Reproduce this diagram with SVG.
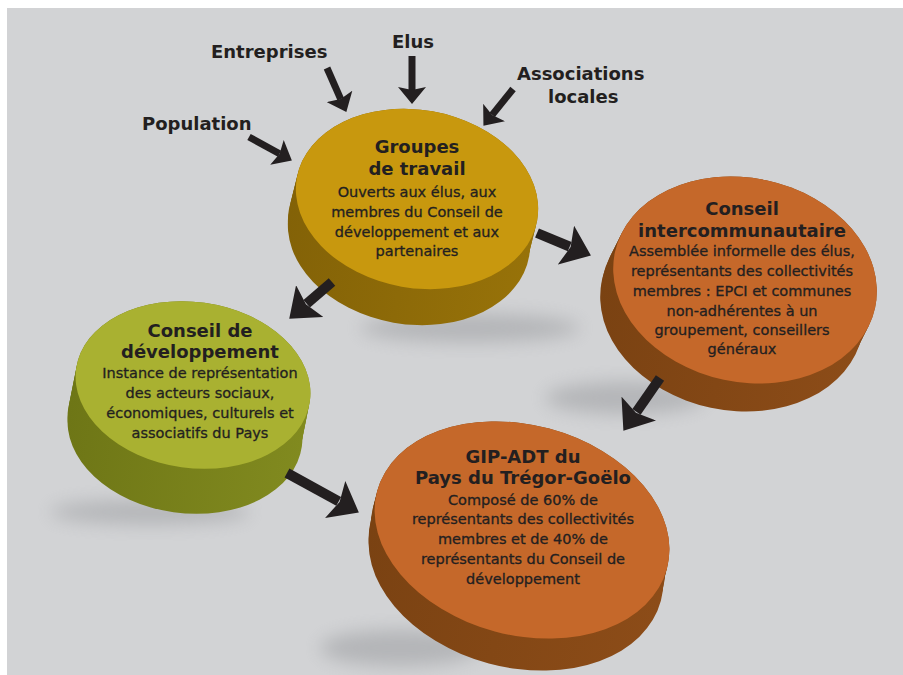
<svg xmlns="http://www.w3.org/2000/svg" xmlns:xlink="http://www.w3.org/1999/xlink" width="903" height="675" viewBox="0 0 903 675">
<style>
.h{font-family:"DejaVu Sans","Liberation Sans",sans-serif;font-weight:bold;font-size:18px;fill:#231f20;text-anchor:middle}
.b{font-family:"DejaVu Sans","Liberation Sans",sans-serif;font-size:14.5px;fill:#231f20;stroke:#231f20;stroke-width:0.3;text-anchor:middle}
.lab{font-family:"DejaVu Sans","Liberation Sans",sans-serif;font-weight:bold;font-size:18px;fill:#231f20}
.a{stroke:#231f20;fill:none}
.sm{stroke-width:7;marker-end:url(#hs)}
.lg{stroke-width:10;marker-end:url(#hl)}
.sh{fill:#8f9194;opacity:.45;filter:url(#blur)}
</style>
<defs>
<filter id="blur" x="-50%" y="-100%" width="200%" height="300%"><feGaussianBlur stdDeviation="9"/></filter>
<marker id="hs" markerUnits="userSpaceOnUse" markerWidth="18" markerHeight="28" refX="3" refY="14" orient="auto"><path d="M0,0 L17,14 L0,28 L3,14 z" fill="#231f20"/></marker>
<marker id="hl" markerUnits="userSpaceOnUse" markerWidth="28" markerHeight="42" refX="4" refY="21" orient="auto"><path d="M0,0 L27,21 L0,42 L5,21 z" fill="#231f20"/></marker>
<linearGradient id="sg" x1="0" y1="0" x2="1" y2="0"><stop offset="0" stop-color="#836207"/><stop offset="1" stop-color="#977209"/></linearGradient>
<linearGradient id="so" x1="0" y1="0" x2="1" y2="0"><stop offset="0" stop-color="#7a4212"/><stop offset="1" stop-color="#8c4c18"/></linearGradient>
<linearGradient id="sv" x1="0" y1="0" x2="1" y2="0"><stop offset="0" stop-color="#6e7616"/><stop offset="1" stop-color="#818a1f"/></linearGradient>
<ellipse id="eG" rx="122" ry="89" transform="rotate(10)"/>
<ellipse id="eI" rx="133" ry="102" transform="rotate(12)"/>
<ellipse id="eV" rx="118" ry="83" transform="rotate(8)"/>
<ellipse id="eP" rx="150" ry="105" transform="rotate(15)"/>
</defs>
<rect x="7" y="8" width="896" height="667" fill="#d2d3d5"/>

<g id="shadows">
<ellipse class="sh" cx="470" cy="328" rx="110" ry="14"/>
<ellipse class="sh" cx="625" cy="398" rx="80" ry="16"/>
<ellipse class="sh" cx="150" cy="512" rx="100" ry="12"/>
<ellipse class="sh" cx="400" cy="648" rx="80" ry="18"/>
</g>

<g id="groupes">
<g fill="url(#sg)">
<use xlink:href="#eG" x="417" y="199"/><use xlink:href="#eG" x="416" y="203"/><use xlink:href="#eG" x="415" y="207"/><use xlink:href="#eG" x="414" y="211"/><use xlink:href="#eG" x="413" y="215"/><use xlink:href="#eG" x="412" y="219"/><use xlink:href="#eG" x="411" y="223"/><use xlink:href="#eG" x="410" y="227"/><use xlink:href="#eG" x="409" y="231"/><use xlink:href="#eG" x="409" y="235"/>
</g>
<use xlink:href="#eG" x="417" y="199" fill="#c8980e"/>
<text class="h" x="417" y="153">Groupes</text>
<text class="h" x="417" y="175">de travail</text>
<text class="b" x="417" y="197">Ouverts aux élus, aux</text>
<text class="b" x="417" y="217">membres du Conseil de</text>
<text class="b" x="417" y="237">développement et aux</text>
<text class="b" x="417" y="256">partenaires</text>
</g>

<g id="intercommunautaire">
<g fill="url(#so)">
<use xlink:href="#eI" x="745" y="280"/><use xlink:href="#eI" x="743" y="284"/><use xlink:href="#eI" x="741" y="288"/><use xlink:href="#eI" x="739" y="292"/><use xlink:href="#eI" x="737" y="296"/><use xlink:href="#eI" x="735" y="300"/><use xlink:href="#eI" x="733" y="304"/><use xlink:href="#eI" x="732" y="308"/>
</g>
<use xlink:href="#eI" x="745" y="280" fill="#c5682a"/>
<text class="h" x="742" y="215">Conseil</text>
<text class="h" x="742" y="237">intercommunautaire</text>
<text class="b" x="742" y="256">Assemblée informelle des élus,</text>
<text class="b" x="742" y="276">représentants des collectivités</text>
<text class="b" x="742" y="296">membres : EPCI et communes</text>
<text class="b" x="742" y="316">non-adhérentes à un</text>
<text class="b" x="742" y="335">groupement, conseillers</text>
<text class="b" x="742" y="354">généraux</text>
</g>

<g id="developpement">
<g fill="url(#sv)">
<use xlink:href="#eV" x="193" y="385"/><use xlink:href="#eV" x="192" y="390"/><use xlink:href="#eV" x="191" y="395"/><use xlink:href="#eV" x="190" y="400"/><use xlink:href="#eV" x="189" y="405"/><use xlink:href="#eV" x="188" y="410"/><use xlink:href="#eV" x="187" y="415"/><use xlink:href="#eV" x="186" y="420"/><use xlink:href="#eV" x="185" y="425"/><use xlink:href="#eV" x="185" y="430"/>
</g>
<use xlink:href="#eV" x="193" y="385" fill="#a9b131"/>
<text class="h" x="200" y="337">Conseil de</text>
<text class="h" x="200" y="358">développement</text>
<text class="b" x="200" y="378">Instance de représentation</text>
<text class="b" x="200" y="398">des acteurs sociaux,</text>
<text class="b" x="200" y="418">économiques, culturels et</text>
<text class="b" x="200" y="438">associatifs du Pays</text>
</g>

<g id="gip-adt">
<g fill="url(#so)">
<use xlink:href="#eP" x="522" y="530"/><use xlink:href="#eP" x="521" y="534"/><use xlink:href="#eP" x="520" y="538"/><use xlink:href="#eP" x="519" y="542"/><use xlink:href="#eP" x="518" y="546"/><use xlink:href="#eP" x="518" y="550"/><use xlink:href="#eP" x="517" y="554"/><use xlink:href="#eP" x="516" y="558"/><use xlink:href="#eP" x="516" y="562"/>
</g>
<use xlink:href="#eP" x="522" y="530" fill="#c5682a"/>
<text class="h" x="523" y="463">GIP-ADT du</text>
<text class="h" x="523" y="484">Pays du Trégor-Goëlo</text>
<text class="b" x="523" y="505">Composé de 60% de</text>
<text class="b" x="523" y="524">représentants des collectivités</text>
<text class="b" x="523" y="544">membres et de 40% de</text>
<text class="b" x="523" y="564">représentants du Conseil de</text>
<text class="b" x="523" y="584">développement</text>
</g>

<g id="labels">
<text class="lab" x="211" y="58">Entreprises</text>
<text class="lab" x="392" y="48">Elus</text>
<text class="lab" x="517" y="80">Associations</text>
<text class="lab" x="548" y="103">locales</text>
<text class="lab" x="142" y="130">Population</text>
</g>

<g id="connectors">
<line class="a sm" x1="327" y1="68" x2="340.7" y2="99.1"/>
<line class="a sm" x1="412" y1="56" x2="412" y2="90"/>
<line class="a sm" x1="513" y1="89" x2="492.2" y2="114.9"/>
<line class="a sm" x1="249" y1="137" x2="279.6" y2="153.8"/>
<line class="a lg" x1="537" y1="233" x2="569.7" y2="246.6"/>
<line class="a lg" x1="332" y1="282" x2="306.7" y2="303.7"/>
<line class="a lg" x1="287" y1="473" x2="338.7" y2="501.4"/>
<line class="a lg" x1="660" y1="378" x2="636.5" y2="411.9"/>
</g>
</svg>
